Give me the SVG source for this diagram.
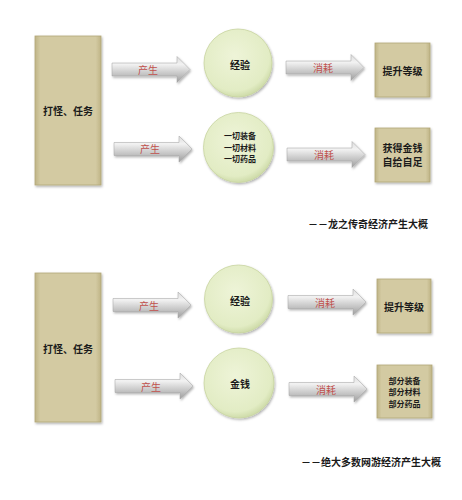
<svg xmlns="http://www.w3.org/2000/svg" width="462" height="500" viewBox="0 0 462 500">
<defs>
<linearGradient id="gRect" x1="0" y1="0" x2="1" y2="0">
<stop offset="0" stop-color="#bfb486"/>
<stop offset="0.08" stop-color="#d3caa2"/>
<stop offset="0.92" stop-color="#d3caa2"/>
<stop offset="1" stop-color="#bfb486"/>
</linearGradient>
<radialGradient id="gCirc" cx="0.45" cy="0.4" r="0.6">
<stop offset="0" stop-color="#eef4d8"/>
<stop offset="0.85" stop-color="#e2ecc4"/>
<stop offset="1" stop-color="#cfdcaa"/>
</radialGradient>
<linearGradient id="gArrow" x1="0" y1="0" x2="0" y2="1">
<stop offset="0" stop-color="#dcdcdc"/>
<stop offset="0.3" stop-color="#f2f2f2"/>
<stop offset="1" stop-color="#9e9e9e"/>
</linearGradient>
<filter id="sh" x="-20%" y="-20%" width="140%" height="140%">
<feDropShadow dx="1" dy="1.5" stdDeviation="1.2" flood-color="#000" flood-opacity="0.3"/>
</filter>
<path id="arrow" d="M0,-6.5 H65 V-13 L78,0 L65,13 V6.5 H0 Z"/>
</defs>
<style>
.rect{fill:url(#gRect);stroke:#b2a778;stroke-width:0.8;filter:url(#sh)}
.circ{fill:url(#gCirc);stroke:#c8d4a0;stroke-width:0.8;filter:url(#sh)}
.arr{fill:url(#gArrow);stroke:#a0a0a0;stroke-width:0.5;filter:url(#sh)}
.t{font-family:"Noto Sans CJK SC","Noto Sans",sans-serif;font-weight:bold;font-size:10px;fill:#1a1a1a;text-anchor:middle;dominant-baseline:central}
.s{font-size:8px}
.lbl{font-family:"Noto Sans CJK SC","Noto Sans",sans-serif;font-size:10px;fill:#c0504d;text-anchor:middle;dominant-baseline:central}
.cap{font-family:"Noto Sans CJK SC","Noto Sans",sans-serif;font-weight:bold;font-size:10px;fill:#1a1a1a;text-anchor:end;dominant-baseline:central}
</style>
<rect width="462" height="500" fill="#ffffff"/>

<g id="connectors">
<use href="#arrow" class="arr" transform="translate(112,69.5)"/>
<use href="#arrow" class="arr" transform="translate(114,149)"/>
<use href="#arrow" class="arr" transform="translate(286,67.5)"/>
<use href="#arrow" class="arr" transform="translate(287,154.5)"/>
<use href="#arrow" class="arr" transform="translate(113,305)"/>
<use href="#arrow" class="arr" transform="translate(115,386)"/>
<use href="#arrow" class="arr" transform="translate(288,302)"/>
<use href="#arrow" class="arr" transform="translate(289,389)"/>
<text class="lbl" x="148" y="69">产生</text>
<text class="lbl" x="150" y="148.5">产生</text>
<text class="lbl" x="323" y="67">消耗</text>
<text class="lbl" x="324" y="154">消耗</text>
<text class="lbl" x="149" y="305">产生</text>
<text class="lbl" x="151" y="386">产生</text>
<text class="lbl" x="325" y="302">消耗</text>
<text class="lbl" x="326" y="389">消耗</text>
</g>

<g id="top-source">
<rect class="rect" x="35" y="36" width="66" height="149"/>
<text class="t" x="68" y="110">打怪、任务</text>
</g>
<g id="top-exp">
<circle class="circ" cx="238" cy="63" r="34"/>
<text class="t" x="240" y="64" font-size="9">经验</text>
</g>
<g id="top-items">
<circle class="circ" cx="238.5" cy="147.5" r="35"/>
<text class="t s" x="240" y="135.5">一切装备</text>
<text class="t s" x="240" y="147">一切材料</text>
<text class="t s" x="240" y="158.5">一切药品</text>
</g>
<g id="top-level">
<rect class="rect" x="375" y="43" width="55" height="54"/>
<text class="t" x="402.5" y="70">提升等级</text>
</g>
<g id="top-gold">
<rect class="rect" x="375" y="128" width="55" height="54"/>
<text class="t" x="402.5" y="147">获得金钱</text>
<text class="t" x="402.5" y="161">自给自足</text>
</g>
<text class="cap" x="428" y="223">－－龙之传奇经济产生大概</text>

<g id="bottom-source">
<rect class="rect" x="35" y="273" width="66" height="149"/>
<text class="t" x="68" y="348">打怪、任务</text>
</g>
<g id="bottom-exp">
<circle class="circ" cx="238.5" cy="299" r="34"/>
<text class="t" x="240" y="300" font-size="9">经验</text>
</g>
<g id="bottom-gold">
<circle class="circ" cx="239" cy="383" r="35"/>
<text class="t" x="240" y="383" font-size="9">金钱</text>
</g>
<g id="bottom-level">
<rect class="rect" x="377" y="279" width="54" height="54"/>
<text class="t" x="404" y="306">提升等级</text>
</g>
<g id="bottom-items">
<rect class="rect" x="377" y="365" width="55" height="53"/>
<text class="t s" x="404.5" y="380">部分装备</text>
<text class="t s" x="404.5" y="391.5">部分材料</text>
<text class="t s" x="404.5" y="403">部分药品</text>
</g>
<text class="cap" x="441" y="461">－－绝大多数网游经济产生大概</text>
</svg>
